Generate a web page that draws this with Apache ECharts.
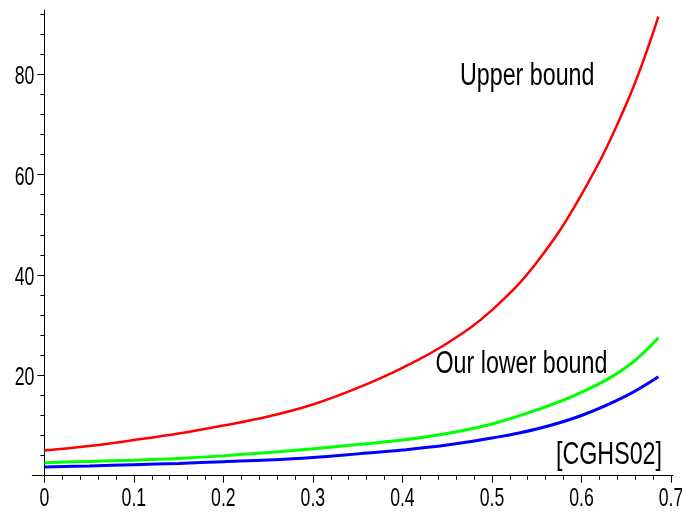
<!DOCTYPE html>
<html>
<head>
<meta charset="utf-8">
<script src="https://cdn.jsdelivr.net/npm/echarts@6/dist/echarts.min.js"></script>
<style>
html,body{margin:0;padding:0;background:#fff;width:682px;height:512px;overflow:hidden;}
#main{position:absolute;left:15px;top:0;width:667px;height:512px;}
</style>
</head>
<body>
<div id="main"></div>
<script>
// ---- data ----
var xs    = [0, 0.05, 0.1, 0.15, 0.2, 0.25, 0.3, 0.35, 0.4, 0.45, 0.5, 0.55, 0.6, 0.65, 0.686];
var upper = [5.0, 5.9, 7.1, 8.4, 10.0, 11.8, 14.2, 17.5, 21.5, 26.4, 33.0, 42.5, 56.0, 74.0, 91.5];
var ours  = [2.6, 2.85, 3.1, 3.45, 3.95, 4.6, 5.35, 6.2, 7.1, 8.4, 10.3, 13.1, 16.6, 21.6, 27.5];
var cghs  = [1.75, 1.95, 2.2, 2.45, 2.8, 3.15, 3.65, 4.35, 5.1, 6.1, 7.5, 9.3, 12.0, 15.9, 19.7];
var xMajor = [0, 0.1, 0.2, 0.3, 0.4, 0.5, 0.6, 0.7];
var xMinor = [0.02,0.04,0.06,0.08,0.12,0.14,0.16,0.18,0.22,0.24,0.26,0.28,0.32,0.34,0.36,0.38,0.42,0.44,0.46,0.48,0.52,0.54,0.56,0.58,0.62,0.64,0.66,0.68];
var yMajor = [0, 20, 40, 60, 80];
var yLabels = [20, 40, 60, 80];
var yMinor = [4,8,12,16,24,28,32,36,44,48,52,56,64,68,72,76,84,88,92];
var labels = ['Upper bound', 'Our lower bound', '[CGHS02]'];

function pairs(ys){ return xs.map(function(x,i){ return [x, ys[i]]; }); }

var X_MIN = -0.0135, X_MAX = 0.7023, Y_MIN = 0, Y_MAX = 92.8;
var FONT = "'Liberation Sans', Arial, sans-serif";

var chart = echarts.init(document.getElementById('main'), null, {renderer:'canvas'});
function txt(s, x, y, size, align, sx){
  return {type:'text', x:x, y:y, scaleX:sx, scaleY:1, silent:true,
    style:{text:s, x:0, y:0, font:size+'px '+FONT, fill:'#000',
      align:align, verticalAlign:'top', textAlign:align, textVerticalAlign:'top'}};
}
chart.setOption({
  animation:false,
  backgroundColor:'#fff',
  grid:{left:17.3, right:9, top:10, bottom:36.3, containLabel:false, outerBoundsMode:'none'},
  xAxis:[{
    type:'value', min:X_MIN, max:X_MAX, position:'bottom',
    axisLine:{show:true, onZero:true, lineStyle:{color:'#000', width:1}},
    axisTick:{show:true, length:7, customValues:xMajor, lineStyle:{color:'#000', width:1}},
    axisLabel:{show:false},
    splitLine:{show:false}
  },{
    type:'value', min:X_MIN, max:X_MAX, position:'bottom',
    axisLine:{show:true, onZero:true, onZeroAxisIndex:0, lineStyle:{color:'#000', opacity:0}},
    axisTick:{show:true, length:4, customValues:xMinor, lineStyle:{color:'#000', width:1}},
    axisLabel:{show:false}, splitLine:{show:false}
  }],
  yAxis:[{
    type:'value', min:Y_MIN, max:Y_MAX, position:'left',
    axisLine:{show:true, onZero:true, lineStyle:{color:'#000', width:1}},
    axisTick:{show:true, length:7, customValues:yMajor, lineStyle:{color:'#000', width:1}},
    axisLabel:{show:false},
    splitLine:{show:false}
  },{
    type:'value', min:Y_MIN, max:Y_MAX, position:'left',
    axisLine:{show:true, onZero:true, onZeroAxisIndex:0, lineStyle:{color:'#000', opacity:0}},
    axisTick:{show:true, length:4, customValues:yMinor, lineStyle:{color:'#000', width:1}},
    axisLabel:{show:false}, splitLine:{show:false}
  }],
  series:[
    {name:labels[0], type:'line', data:pairs(upper), smooth:0.4, showSymbol:false,
      lineStyle:{color:'#ff0000', width:2.5}, itemStyle:{color:'#ff0000'}},
    {name:labels[1], type:'line', data:pairs(ours), smooth:0.4, showSymbol:false,
      lineStyle:{color:'#00ff00', width:3}, itemStyle:{color:'#00ff00'}},
    {name:labels[2], type:'line', data:pairs(cghs), smooth:0.4, showSymbol:false,
      lineStyle:{color:'#0000ff', width:3}, itemStyle:{color:'#0000ff'}}
  ]
});

// Tick labels placed through the axes' own scales (condensed like the original)
var g = [];
var x0 = chart.convertToPixel({xAxisIndex:0}, 0);
var y0 = chart.convertToPixel({yAxisIndex:0}, 0);
xMajor.forEach(function(v){
  var px = chart.convertToPixel({xAxisIndex:0}, v);
  g.push(txt(v === 0 ? '0' : v.toFixed(1), px, y0 + 10.2, 26, 'center', 0.68));
});
yLabels.forEach(function(v){
  var py = chart.convertToPixel({yAxisIndex:0}, v);
  g.push(txt(String(v), x0 - 10, py - 10.2, 26, 'right', 0.68));
});
// annotations
g.push(txt(labels[0], 445, 61.1, 31, 'left', 0.75));
g.push(txt(labels[1], 420.5, 348.8, 31, 'left', 0.75));
g.push(txt(labels[2], 541, 439.5, 31, 'left', 0.75));
chart.setOption({graphic:g});
</script>
</body>
</html>
